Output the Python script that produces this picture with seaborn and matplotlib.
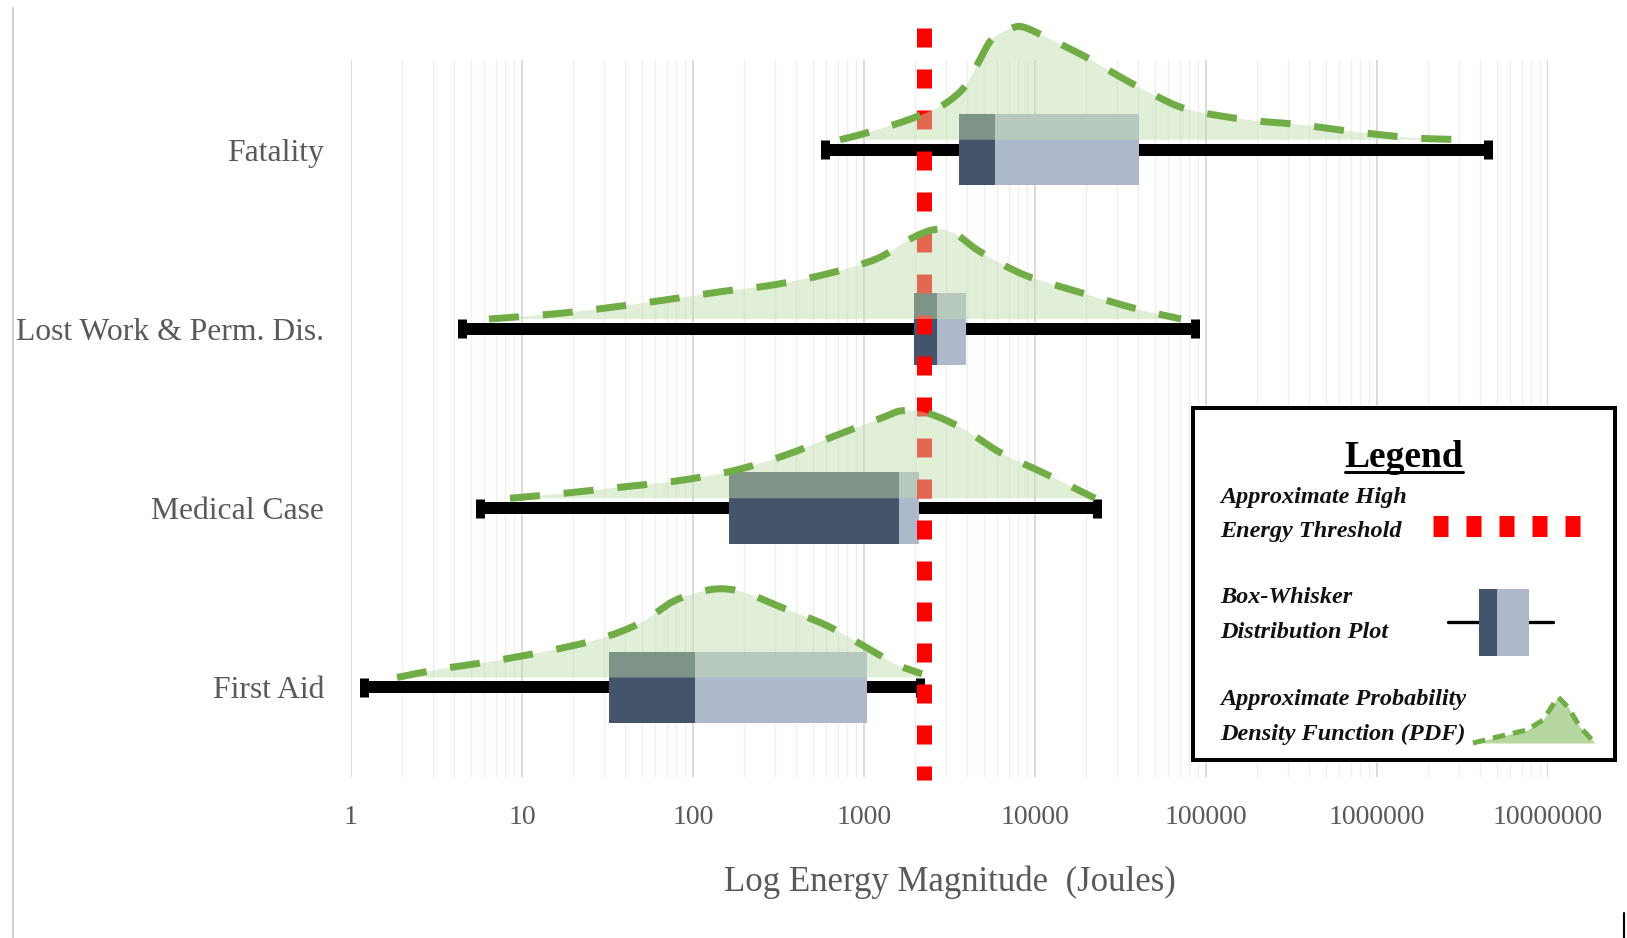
import numpy as np
import pandas as pd
import matplotlib.pyplot as plt
from matplotlib.lines import Line2D
from matplotlib.patches import PathPatch
from matplotlib.path import Path
from matplotlib.ticker import FixedLocator, LogLocator, NullFormatter
import seaborn as sns

# injury categories, bottom to top
categories = ["First Aid", "Medical Case", "Lost Work & Perm. Dis.", "Fatality"]

# box-whisker stats (Joules)
whisker_low = [1.19, 5.68, 4.46, 591]
q1 = [32.2, 161.5, 1960, 3597]
median = [102.8, 1596, 2675, 5840]
q3 = [1047, 2104, 3945, 40600]
whisker_high = [2125, 23050, 86300, 4.46e6]

# approximate PDFs: energy values and relative height
pdf_first_aid_x = [1.86, 3.23, 6.58, 13.8, 27.8, 48.9, 77.4, 116, 156, 212, 336, 615, 1130, 1538, 2183]
pdf_first_aid_h = [0, 0.045, 0.090, 0.146, 0.213, 0.303, 0.427, 0.483, 0.494, 0.466, 0.388, 0.287, 0.146, 0.073, 0.02]

pdf_medical_x = [8.5, 17.8, 37.9, 79.5, 169, 336, 676, 1274, 1690, 2399, 3793, 6325, 11300, 22440]
pdf_medical_h = [0, 0.028, 0.062, 0.096, 0.152, 0.236, 0.348, 0.449, 0.489, 0.472, 0.388, 0.253, 0.140, 0]

pdf_lost_x = [6.41, 15.2, 31.4, 69.5, 143.8, 297.6, 615, 1191, 1883, 2637, 3452, 4770, 8620, 17830, 39470, 71450]
pdf_lost_h = [0, 0.028, 0.062, 0.107, 0.152, 0.191, 0.253, 0.337, 0.449, 0.500, 0.472, 0.376, 0.247, 0.152, 0.056, 0]

pdf_fatal_x = [724, 1042, 1690, 2399, 3056, 3896, 4707, 5609, 7145, 8510, 12240, 19870, 31830, 48980,
               78500, 171400, 354600, 733000, 1603000, 3270000]
pdf_fatal_h = [0, 0.039, 0.101, 0.157, 0.208, 0.298, 0.438, 0.562, 0.618, 0.629, 0.562, 0.461, 0.348, 0.253,
               0.169, 0.112, 0.084, 0.045, 0.011, 0]

pdf_x = [pdf_first_aid_x, pdf_medical_x, pdf_lost_x, pdf_fatal_x]
pdf_h = [pdf_first_aid_h, pdf_medical_h, pdf_lost_h, pdf_fatal_h]

threshold = 2244

tick_values = [1, 10, 100, 1000, 10000, 100000, 1000000, 10000000]
tick_labels = ["1", "10", "100", "1000", "10000", "100000", "1000000", "10000000"]

dark = "#44546a"
light = "#adb9ca"
green = "#70ad47"
fill_green = "#c2ddae"
red = "#ff0000"
grey_text = "#595959"


def smooth_verts(xs, ys):
    # Catmull-Rom through the points, drawn as cubic Bezier segments in log-x space
    u = np.log10(np.asarray(xs, float))
    v = np.asarray(ys, float)
    p = np.column_stack([u, v])
    m = np.zeros_like(p)
    m[1:-1] = (p[2:] - p[:-2]) / 2
    m[0] = p[1] - p[0]
    m[-1] = p[-1] - p[-2]
    verts = [p[0]]
    codes = [Path.MOVETO]
    for i in range(len(p) - 1):
        verts += [p[i] + m[i] / 3, p[i + 1] - m[i + 1] / 3, p[i + 1]]
        codes += [Path.CURVE4] * 3
    verts = np.array(verts)
    verts[:, 0] = 10 ** verts[:, 0]
    return verts, codes


sns.set_theme(style="white")
plt.rcParams["font.family"] = ["Liberation Serif", "DejaVu Serif"]

W, H = 1627, 938
px = 72 / 100  # points per pixel

fig = plt.figure(figsize=(W / 100, H / 100), dpi=100)
ax = fig.add_axes([351 / W, 1 - 777 / H, (1548 - 351) / W, (777 - 60) / H])
ax.set_xscale("log")
ax.set_xlim(1, 1e7)
ax.set_ylim(-0.5, 3.5)

ax.xaxis.set_major_locator(FixedLocator(tick_values))
ax.set_xticklabels(tick_labels)
ax.xaxis.set_minor_locator(LogLocator(base=10, subs=np.arange(2, 10), numticks=100))
ax.xaxis.set_minor_formatter(NullFormatter())
ax.grid(True, which="major", axis="x", color="#d4d4d4", lw=1.2)
ax.grid(True, which="minor", axis="x", color="#efefef", lw=1.0)
ax.grid(False, axis="y")
ax.set_axisbelow(True)

pos = np.arange(len(categories))

# whiskers (seaborn lines) with end caps
whisker_df = pd.DataFrame({
    "category": categories * 2,
    "energy": whisker_low + whisker_high,
    "pos": list(pos) * 2,
})
sns.lineplot(data=whisker_df, x="energy", y="pos", units="category", estimator=None,
             color="black", lw=12 * px, solid_capstyle="butt", ax=ax, zorder=2)
ax.vlines(whisker_low, pos - 0.053, pos + 0.053, color="black", lw=9 * px, zorder=2)
ax.vlines(whisker_high, pos - 0.053, pos + 0.053, color="black", lw=9 * px, zorder=2)

# boxes: q1-median dark, median-q3 light
ax.barh(pos, np.array(median) - np.array(q1), left=q1, height=0.4, color=dark, lw=0, zorder=3)
ax.barh(pos, np.array(q3) - np.array(median), left=median, height=0.4, color=light, lw=0, zorder=3)

# high energy threshold
ax.plot([threshold, threshold], [3.68, -0.517], color=red, lw=15 * px,
        dashes=(19 / 15, 22 / 15), dash_capstyle="butt", clip_on=False, zorder=4)

# PDFs
for p, xs, hs in zip(pos, pdf_x, pdf_h):
    base = p + 0.055
    verts, codes = smooth_verts(xs, base + np.array(hs))
    fill_verts = np.vstack([verts, [[xs[-1], base], [xs[0], base], [xs[0], base]]])
    fill_codes = codes + [Path.LINETO, Path.LINETO, Path.CLOSEPOLY]
    ax.add_patch(PathPatch(Path(fill_verts, fill_codes), facecolor=fill_green, edgecolor="none",
                           alpha=0.47, zorder=5, clip_on=False))
    ax.add_patch(PathPatch(Path(verts, codes), facecolor="none", edgecolor=green, lw=7 * px,
                           linestyle=(0, (4.3, 3.4)), capstyle="butt", zorder=6, clip_on=False))

ax.set_yticks(pos)
ax.set_yticklabels(categories)
ax.tick_params(axis="both", which="both", length=0)
ax.tick_params(axis="x", labelsize=20, labelcolor=grey_text, pad=20)
ax.tick_params(axis="y", labelsize=22.8, labelcolor=grey_text, pad=19.5)
for s in ax.spines.values():
    s.set_visible(False)

ax.set_ylabel("")
ax.set_xlabel("Log Energy Magnitude  (Joules)", fontsize=25, color=grey_text)
ax.xaxis.set_label_coords(0.5, -0.1464)
ax.xaxis.label.set_va("center")

# legend box drawn by hand
leg = fig.add_axes([1193 / W, 1 - 760 / H, 422 / W, 352 / H])
leg.set_zorder(10)
leg.set_xlim(0, 422)
leg.set_ylim(352, 0)
leg.set_xticks([])
leg.set_yticks([])
leg.set_facecolor("white")
for s in leg.spines.values():
    s.set_visible(True)
    s.set_color("black")
    s.set_linewidth(4 * px)

title = leg.text(211, 59, "Legend", ha="center", va="baseline", fontsize=27, fontweight="bold", color="black")
item_kw = dict(ha="left", va="baseline", fontsize=17.5, fontstyle="italic", fontweight="bold", color="#111111")
leg.text(27, 95, "Approximate High", **item_kw)
leg.text(27, 129, "Energy Threshold", **item_kw)
leg.text(27, 195, "Box-Whisker", **item_kw)
leg.text(27, 230, "Distribution Plot", **item_kw)
leg.text(27, 297, "Approximate Probability", **item_kw)
leg.text(27, 332, "Density Function (PDF)", **item_kw)

leg.plot([240, 387], [118, 118], color=red, lw=21 * px, dashes=(15 / 21, 18 / 21), dash_capstyle="butt")
leg.plot([255, 360], [214, 214], color="black", lw=3.3 * px)
leg.fill_between([286, 304], 181, 248, color=dark, lw=0, zorder=3)
leg.fill_between([304, 336], 181, 248, color=light, lw=0, zorder=3)
glyph_x = [280, 304, 334, 350, 365, 375, 387, 402]
glyph_y = [335, 329, 322, 312, 289, 299, 319, 335]
leg.fill_between(glyph_x, 335, glyph_y, color="#a9d18e", alpha=0.85, lw=0)
leg.plot(glyph_x, glyph_y, color=green, lw=5 * px, linestyle=(0, (2.5, 1.6)))

fig.canvas.draw()
bb = title.get_window_extent()
inv = leg.transData.inverted()
(ux0, _), (ux1, _) = inv.transform([[bb.x0, bb.y0], [bb.x1, bb.y0]])
leg.plot([ux0, ux1], [64, 64], color="black", lw=3 * px)

# page edge artifacts
fig.add_artist(Line2D([12.5 / W, 12.5 / W], [0, 1 - 8 / H], color="#d0d0d0", lw=1.5))
fig.add_artist(Line2D([1624 / W, 1624 / W], [0, 1 - 913 / H], color="black", lw=1.5))

fig.savefig("out.png", dpi=100)
